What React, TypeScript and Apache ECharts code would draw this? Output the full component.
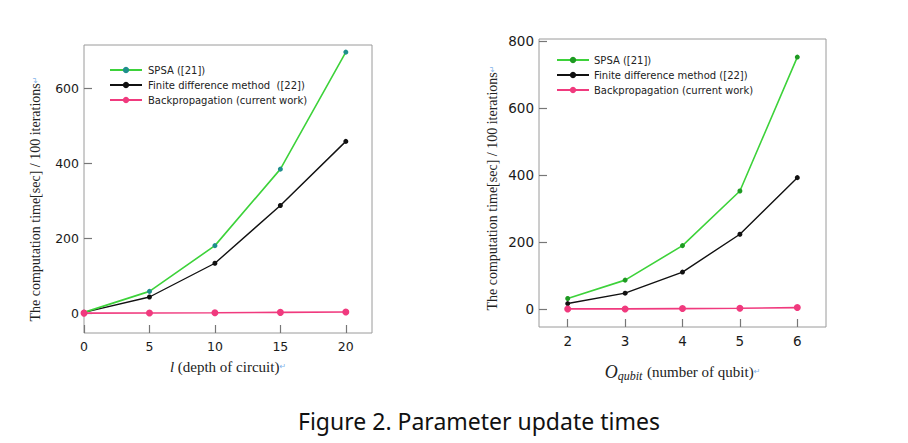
import { useEffect, useRef } from 'react'
import * as echarts from 'echarts'

// left panel: depth of circuit
const depthX = [0, 5, 10, 15, 20]
const spsaDepth = [2, 58, 180, 384, 696]
const finiteDepth = [2, 43, 133, 287, 458]
const backpropDepth = [0, 0.5, 1, 2, 3]

// right panel: number of qubits
const qubitX = [2, 3, 4, 5, 6]
const spsaQubit = [31, 86, 189, 352, 752]
const finiteQubit = [16, 47, 110, 223, 392]
const backpropQubit = [0, 0, 1, 2, 4]

const yTicksLeft = [0, 200, 400, 600]
const yTicksRight = [0, 200, 400, 600, 800]

const GREEN = '#3dd23a'
const PINK = '#f03a7e'
const BLACK = '#111111'

const pairs = (xs: number[], ys: number[]) => xs.map((x, i) => [x, ys[i]])

const serif = 'Liberation Serif'
const sans = 'DejaVu Sans'

const yName = 'The computation time[sec] / 100 iterations{r|↵}'
const retStyle = { r: { color: '#7fb3ea', fontSize: 8, fontFamily: sans } }

const App: React.FC = () => {
  const chartRef = useRef<HTMLDivElement>(null)

  useEffect(() => {
    if (!chartRef.current) return
    const chart = echarts.init(chartRef.current, undefined, { renderer: 'svg' })

    const xAxisBase = (gridIndex: number, min: number, max: number, ticks: number[], fontSize: number) => ({
      type: 'value',
      gridIndex,
      min,
      max,
      axisLine: { show: false, onZero: false },
      axisTick: {
        show: true,
        inside: true,
        length: 8,
        customValues: ticks,
        lineStyle: { color: '#777', width: 1.2 }
      },
      axisLabel: {
        customValues: ticks,
        color: '#1a1a1a',
        fontSize,
        fontFamily: sans,
        margin: 7
      },
      splitLine: { show: false }
    })

    const yAxisBase = (gridIndex: number, min: number, max: number, ticks: number[], fontSize: number) => ({
      type: 'value',
      gridIndex,
      min,
      max,
      axisLine: { show: false, onZero: false },
      axisTick: {
        show: true,
        inside: true,
        length: 8,
        customValues: ticks,
        lineStyle: { color: '#777', width: 1.2 }
      },
      axisLabel: {
        customValues: ticks,
        color: '#1a1a1a',
        fontSize,
        fontFamily: sans,
        margin: 5
      },
      splitLine: { show: false }
    })

    const option = {
      animation: false,
      backgroundColor: '#ffffff',
      title: {
        text: 'Figure 2. Parameter update times',
        left: 298,
        top: 409,
        padding: 0,
        textStyle: {
          fontFamily: 'Noto Sans',
          fontSize: 23,
          fontWeight: 'normal',
          color: '#111'
        }
      },
      grid: [
        { left: 84, top: 45, width: 288, height: 288, show: true, borderColor: '#9a9a9a', borderWidth: 1, backgroundColor: 'transparent' },
        { left: 539, top: 39, width: 287, height: 288, show: true, borderColor: '#9a9a9a', borderWidth: 1, backgroundColor: 'transparent' }
      ],
      legend: [
        {
          orient: 'vertical',
          left: 104,
          top: 60,
          itemWidth: 32,
          itemHeight: 8,
          itemGap: 5,
          data: ['SPSA ([21])', 'Finite difference method  ([22])', 'Backpropagation (current work)'],
          textStyle: { fontFamily: sans, fontSize: 10, color: '#222', padding: [0, 0, 0, 1] }
        },
        {
          orient: 'vertical',
          left: 551,
          top: 50,
          itemWidth: 32,
          itemHeight: 8,
          itemGap: 5,
          data: ['SPSA ([21])#r', 'Finite difference method ([22])', 'Backpropagation (current work)#r'],
          formatter: (n: string) => n.replace(/#r$/, ''),
          textStyle: { fontFamily: sans, fontSize: 10, color: '#222', padding: [0, 0, 0, 0] }
        }
      ],
      xAxis: [
        {
          ...xAxisBase(0, 0, 22, depthX, 12.5),
          name: '{i|l} (depth of circuit){r|↵}',
          nameLocation: 'middle',
          nameGap: 26,
          nameTextStyle: {
            fontFamily: serif,
            fontSize: 15,
            color: '#222',
            rich: { i: { fontStyle: 'italic', fontFamily: serif, fontSize: 15, color: '#222' }, ...retStyle }
          }
        },
        {
          ...xAxisBase(1, 1.5, 6.5, qubitX, 13.5),
          name: '{o|O}{s|qubit} (number of qubit){r|↵}',
          nameLocation: 'middle',
          nameGap: 34,
          nameTextStyle: {
            fontFamily: serif,
            fontSize: 15,
            color: '#222',
            rich: {
              o: { fontStyle: 'italic', fontFamily: serif, fontSize: 18, color: '#222' },
              s: { fontStyle: 'italic', fontFamily: serif, fontSize: 12, color: '#222', padding: [9, 1, 0, 0] },
              ...retStyle
            }
          }
        }
      ],
      yAxis: [
        {
          ...yAxisBase(0, -53, 715, yTicksLeft, 12.5),
          name: yName,
          nameLocation: 'middle',
          nameRotate: 90,
          nameGap: 42,
          nameTextStyle: { fontFamily: serif, fontSize: 14, color: '#222', padding: [0, 20, 0, 0], rich: retStyle }
        },
        {
          ...yAxisBase(1, -54, 806, yTicksRight, 13.5),
          name: yName,
          nameLocation: 'middle',
          nameRotate: 90,
          nameGap: 40,
          nameTextStyle: { fontFamily: serif, fontSize: 14, color: '#222', padding: [0, 10, 0, 0], rich: retStyle }
        }
      ],
      series: [
        {
          name: 'SPSA ([21])',
          type: 'line',
          xAxisIndex: 0,
          yAxisIndex: 0,
          data: pairs(depthX, spsaDepth),
          symbol: 'circle',
          symbolSize: 5,
          lineStyle: { color: GREEN, width: 1.6 },
          itemStyle: { color: '#1f8f8c' },
          z: 3
        },
        {
          name: 'Finite difference method  ([22])',
          type: 'line',
          xAxisIndex: 0,
          yAxisIndex: 0,
          data: pairs(depthX, finiteDepth),
          symbol: 'circle',
          symbolSize: 5,
          lineStyle: { color: BLACK, width: 1.4 },
          itemStyle: { color: BLACK },
          z: 2
        },
        {
          name: 'Backpropagation (current work)',
          type: 'line',
          xAxisIndex: 0,
          yAxisIndex: 0,
          data: pairs(depthX, backpropDepth),
          symbol: 'circle',
          symbolSize: 7,
          lineStyle: { color: PINK, width: 1.6 },
          itemStyle: { color: PINK },
          z: 4
        },
        {
          name: 'SPSA ([21])#r',
          type: 'line',
          xAxisIndex: 1,
          yAxisIndex: 1,
          data: pairs(qubitX, spsaQubit),
          symbol: 'circle',
          symbolSize: 5,
          lineStyle: { color: GREEN, width: 1.6 },
          itemStyle: { color: '#1e9a22' },
          z: 3
        },
        {
          name: 'Finite difference method ([22])',
          type: 'line',
          xAxisIndex: 1,
          yAxisIndex: 1,
          data: pairs(qubitX, finiteQubit),
          symbol: 'circle',
          symbolSize: 5,
          lineStyle: { color: BLACK, width: 1.4 },
          itemStyle: { color: BLACK },
          z: 2
        },
        {
          name: 'Backpropagation (current work)#r',
          type: 'line',
          xAxisIndex: 1,
          yAxisIndex: 1,
          data: pairs(qubitX, backpropQubit),
          symbol: 'circle',
          symbolSize: 7,
          lineStyle: { color: PINK, width: 1.6 },
          itemStyle: { color: PINK },
          z: 4
        }
      ]
    }

    chart.setOption(option as any)

    return () => {
      chart.dispose()
    }
  }, [])

  return (
    <div
      ref={chartRef}
      style={{
        position: 'fixed',
        left: 0,
        top: 0,
        width: '908px',
        height: '443px',
        backgroundColor: '#ffffff'
      }}
    />
  )
}

export default App
